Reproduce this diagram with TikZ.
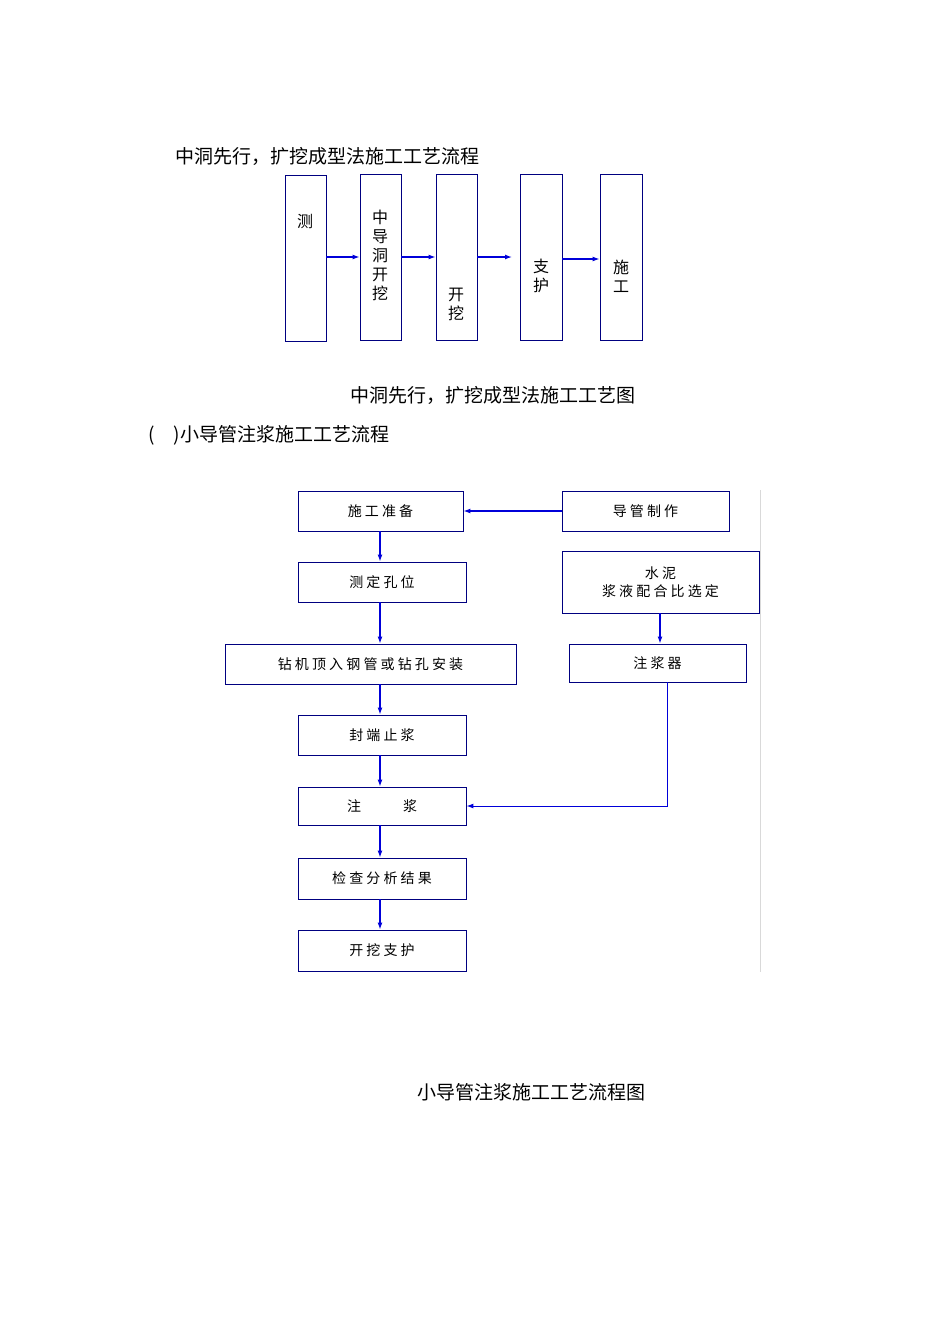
\documentclass[tikz,border=0pt]{standalone}
\usepackage{fontspec}
\setmainfont{Noto Sans CJK SC}
\usetikzlibrary{arrows.meta}
\begin{document}
\begin{tikzpicture}[x=1pt,y=-1pt,
  bx/.style={draw=blue!50!black,line width=0.9pt,inner sep=0pt},
  ar/.style={draw=blue!85!black,line width=1.3pt,-{Latex[length=7pt,width=5pt]}},
  lb/.style={font=\fontsize{14}{18}\selectfont,align=center},
  tt/.style={font=\fontsize{19}{22}\selectfont,anchor=base west}]
\useasboundingbox (0,0) rectangle (950,1344);
% top
\node[tt] (t1) at (172,163) {中洞先行，扩挖成型法施工工艺流程};
\node[bx,minimum width=41pt,minimum height=166pt] (a) at (305.5,258) {};
\node[bx,minimum width=41pt,minimum height=166pt] (b) at (380.5,257) {};
\node[bx,minimum width=41pt,minimum height=166pt] (c) at (456.5,257) {};
\node[bx,minimum width=42pt,minimum height=166pt] (d) at (541,257) {};
\node[bx,minimum width=42pt,minimum height=166pt] (e) at (621,257) {};
\node[lb,font=\fontsize{16}{19}\selectfont] (la) at (305,221) {测};
\node[lb,font=\fontsize{16}{19}\selectfont] (lb1) at (380,255) {中\\导\\洞\\开\\挖};
\node[lb,font=\fontsize{16}{19}\selectfont] (lc) at (456,304) {开\\挖};
\node[lb,font=\fontsize{16}{19}\selectfont] (ld) at (541,276) {支\\护};
\node[lb,font=\fontsize{16}{19}\selectfont] (le) at (621,276) {施\\工};
\draw[ar] (a.east|-0,257) -- (b.west|-0,257);
\draw[ar] (b.east|-0,257) -- (c.west|-0,257);
\coordinate (cd) at (512,257);
\draw[ar] (c.east|-0,257) -- (cd);
\draw[ar] (d.east|-0,259) -- (e.west|-0,259);
\node[tt,anchor=base] (t2) at (493,402) {中洞先行，扩挖成型法施工工艺图};
\node[tt] (t3) at (145,441) {(\quad)小导管注浆施工工艺流程};
% bottom
\draw[gray!30,line width=0.6pt] (760,490) -- (760,972);
\node[bx,minimum width=165pt,minimum height=40pt,lb] (p1) at (380.5,511) {施 工 准 备};
\node[bx,minimum width=167pt,minimum height=40pt,lb] (p2) at (645.5,511) {导 管 制 作};
\node[bx,minimum width=168pt,minimum height=40pt,lb] (p3) at (382,582) {测 定 孔 位};
\node[bx,minimum width=197pt,minimum height=62pt,lb] (p4) at (660.5,582) {水 泥\\浆 液 配 合 比 选 定};
\node[bx,minimum width=291pt,minimum height=40pt,lb] (p5) at (370.5,664) {钻 机 顶 入 钢 管 或 钻 孔 安 装};
\node[bx,minimum width=177pt,minimum height=38pt,lb] (p6) at (657.5,663) {注 浆 器};
\node[bx,minimum width=168pt,minimum height=40pt,lb] (p7) at (382,735) {封 端 止 浆};
\node[bx,minimum width=168pt,minimum height=38pt,lb] (p8) at (382,806) {注\hspace{3em}浆};
\node[bx,minimum width=168pt,minimum height=41pt,lb] (p9) at (382,878.5) {检 查 分 析 结 果};
\node[bx,minimum width=168pt,minimum height=41pt,lb] (p10) at (382,950.5) {开 挖 支 护};
\draw[ar] (p2.west) -- (p1.east);
\draw[ar] (p1.south-|380,0) -- (p3.north-|380,0);
\draw[ar] (p3.south-|380,0) -- (p5.north-|380,0);
\draw[ar] (p5.south-|380,0) -- (p7.north-|380,0);
\draw[ar] (p7.south-|380,0) -- (p8.north-|380,0);
\draw[ar] (p8.south-|380,0) -- (p9.north-|380,0);
\draw[ar] (p9.south-|380,0) -- (p10.north-|380,0);
\draw[ar] (p4.south-|660,0) -- (p6.north-|660,0);
\draw[ar,line width=1pt] (p6.south-|667,0) |- (p8.east);
\node[tt,anchor=base] (t4) at (531,1099) {小导管注浆施工工艺流程图};
\end{tikzpicture}
\end{document}
